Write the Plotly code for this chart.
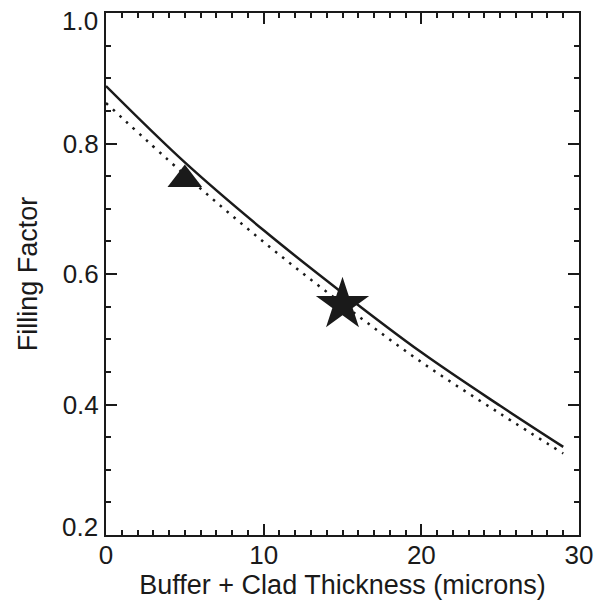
import plotly.graph_objects as go

# Data
thickness = [0, 5, 10, 15, 20, 25, 29]
ff_solid = [0.888, 0.771, 0.667, 0.571, 0.480, 0.398, 0.335]
ff_dotted = [0.862, 0.752, 0.649, 0.554, 0.465, 0.386, 0.325]

triangle_x = [5.0]
triangle_y = [0.745]
star_x = [15.0]
star_y = [0.553]

x_ticks = [0, 10, 20, 30]
y_ticks = [0.2, 0.4, 0.6, 0.8, 1.0]

ink = "#1a1a1a"
fig = go.Figure()
fig.add_trace(go.Scatter(x=thickness, y=ff_solid, mode="lines",
                         line=dict(color=ink, width=2.5, shape="spline"),
                         showlegend=False))
fig.add_trace(go.Scatter(x=thickness, y=ff_dotted, mode="lines",
                         line=dict(color=ink, width=2.5, dash="2.5px,6.5px", shape="spline"),
                         showlegend=False))
fig.add_trace(go.Scatter(x=triangle_x, y=triangle_y, mode="markers",
                         marker=dict(symbol="triangle-up", size=30, color=ink),
                         showlegend=False))
fig.add_trace(go.Scatter(x=star_x, y=star_y, mode="markers",
                         marker=dict(symbol="star", size=40, color=ink),
                         showlegend=False))

font = "Liberation Sans, Arial, Helvetica, sans-serif"
tickfont = dict(family=font, size=26, color=ink)
axis_common = dict(
    showline=True, linecolor=ink, linewidth=2, mirror="allticks",
    ticks="inside", ticklen=11, tickwidth=2, tickcolor=ink,
    showgrid=False, zeroline=False, ticklabeloverflow="allow",
    tickfont=tickfont,
)
fig.update_xaxes(range=[0, 30], tickvals=x_ticks, ticktext=[str(v) for v in x_ticks],
                 minor=dict(ticks="inside", ticklen=5, tickwidth=1.5, dtick=1, tickcolor=ink),
                 ticklabelstandoff=-4,
                 title=dict(text="Buffer + Clad Thickness (microns)",
                            font=dict(family=font, size=27, color=ink), standoff=1),
                 **axis_common)

y_labels = [f"{v:.1f}" for v in y_ticks]
inner_labels = [lab if 0.2 < v < 1.0 else "" for v, lab in zip(y_ticks, y_labels)]
fig.update_yaxes(range=[0.2, 1.0], tickvals=y_ticks, ticktext=inner_labels,
                 minor=dict(ticks="inside", ticklen=5, tickwidth=1.5, dtick=0.05, tickcolor=ink),
                 title=dict(text="Filling Factor",
                            font=dict(family=font, size=27, color=ink), standoff=17),
                 **axis_common)

# end tick labels, nudged inward as in the reference
fig.add_annotation(x=0, xref="paper", xanchor="right", xshift=-6,
                   y=y_ticks[-1], yref="y", yanchor="middle", yshift=-8,
                   text=y_labels[-1], showarrow=False, font=tickfont)
fig.add_annotation(x=0, xref="paper", xanchor="right", xshift=-6,
                   y=y_ticks[0], yref="y", yanchor="middle", yshift=8,
                   text=y_labels[0], showarrow=False, font=tickfont)

fig.update_layout(width=608, height=610,
                  margin=dict(l=106, r=29, t=11, b=75),
                  paper_bgcolor="white", plot_bgcolor="white")
fig.write_html("out.html", config={"displayModeBar": False},
               post_script="document.body.style.margin='0';document.body.style.overflow='hidden';")
